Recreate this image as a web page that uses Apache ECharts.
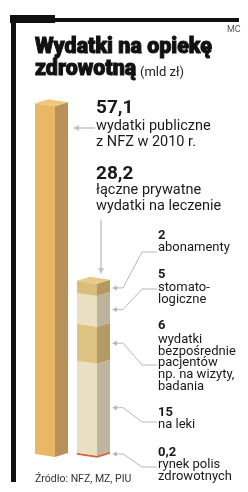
<!DOCTYPE html>
<html><head><meta charset="utf-8">
<script src="https://cdn.jsdelivr.net/npm/echarts@6/dist/echarts.min.js"></script>
<style>html,body{margin:0;padding:0;background:#fff}#c{width:248px;height:492px}</style>
</head><body><div id="c"></div>
<script>
// ---- data ----
const categories = ['Wydatki publiczne z NFZ w 2010 r.', 'Łączne prywatne wydatki na leczenie'];
const publicValues = [57.1];
const privateNames = ['rynek polis zdrowotnych', 'na leki', 'wydatki bezpośrednie pacjentów np. na wizyty, badania', 'stomatologiczne', 'abonamenty'];
const privateValues = [0.2, 15, 6, 5, 2];
const privateTotal = 28.2;
const valueLabels = ['57,1', '28,2', '0,2', '15', '6', '5', '2'];

// ---- styles ----
const publicColors = { front: '#e8b865', side: '#b8915a', top: '#f0c77b' };
const privateColors = [
  { front: '#d8643e', side: '#c9593a' },
  { front: '#e9dfc3', side: '#bfb59c' },
  { front: '#dcc283', side: '#b49b65' },
  { front: '#eadfc1', side: '#bdb39a' },
  { front: '#d9bd7b', side: '#b39860', top: '#e6cc8c' }
];
const leaderLabelY = [467, 422, 365, 289, 252];

// build segments
const segs = [];
segs.push([0, 0, publicValues[0], -1, 1]);
let acc = 0;
privateValues.forEach((v, i) => {
  segs.push([1, acc, acc + v, i, i === privateValues.length - 1 ? 1 : 0]);
  acc += v;
});

function renderItem(params, api) {
  const cat = api.value(0), s = api.value(1), e = api.value(2), k = api.value(3), isTop = api.value(4);
  const p0 = api.coord([cat, s]), p1 = api.coord([cat, e]);
  const band = api.size([1, 0])[0];
  const fw = band * 0.476, sw = band * 0.31;
  const L = p0[0] - fw / 2, M = L + fw, R = M + sw;
  const yb = p0[1], yt = p1[1];
  const col = k < 0 ? publicColors : privateColors[k];
  const children = [];
  children.push({ type: 'polygon', shape: { points: [[L, yt], [M, yt + 3], [M, yb + 3], [L, yb]] }, style: { fill: col.front } });
  children.push({ type: 'polygon', shape: { points: [[M, yt + 3], [R, yt - 1], [R, yb - 1], [M, yb + 3]] }, style: { fill: col.side } });
  if (isTop) {
    children.push({ type: 'polygon', shape: { points: [[L, yt], [M, yt + 3], [R, yt - 1], [L + sw, yt - 4]] }, style: { fill: col.top } });
  }
  if (k === 0) {
    children.push({ type: 'polyline', shape: { points: [[L, yb], [M, yb + 3], [R, yb - 1]] }, style: { stroke: col.front, lineWidth: 1.5, fill: null } });
  }
  if (k >= 0) {
    const m = k === 0 ? yb : (yt + yb) / 2 + 1;
    const ly = leaderLabelY[k];
    children.push({ type: 'polyline', shape: { points: [[R + 5, m], [R + 13, m], [R + 32, ly], [R + 47, ly]] }, style: { stroke: '#b8b8b8', lineWidth: 1, fill: null } });
    children.push({ type: 'polygon', shape: { points: [[R + 2, m], [R + 7, m - 2.5], [R + 7, m + 2.5]] }, style: { fill: '#b8b8b8' } });
  }
  return { type: 'group', children };
}

const chart = echarts.init(document.getElementById('c'), null, { renderer: 'canvas' });

function T(x, base, text, size, weight, color, family, extra) {
  return Object.assign({
    type: 'text', x: x, y: base - size * 0.36,
    style: { text: text, font: (weight || 'normal') + ' ' + size + 'px ' + (family || 'Roboto'), fill: color || '#1a1a1a', verticalAlign: 'middle', align: 'left' }
  }, extra || {});
}

// title fitting
const titleFont = '900 22px Roboto';
const mctx = document.createElement('canvas').getContext('2d');
mctx.font = titleFont;
const tw = mctx.measureText('Wydatki na opiekę').width;
const tScale = 177 / tw;
function titleText(base, text) {
  return { type: 'text', x: 35, y: base - 22 * 0.36, scaleX: tScale, originX: 0,
    style: { text: text, font: titleFont, fill: '#111', stroke: '#111', lineWidth: 1, verticalAlign: 'middle' } };
}

const g = [
  { type: 'rect', shape: { x: 11, y: 15, width: 5, height: 467 }, style: { fill: '#111' } },
  { type: 'rect', shape: { x: 10, y: 15, width: 45, height: 8 }, style: { fill: '#111' } },
  { type: 'rect', shape: { x: 55, y: 18, width: 184, height: 4 }, style: { fill: '#111' } },
  T(227, 33, 'MC', 9, 'normal', '#555'),
  titleText(55, 'Wydatki na opiekę'),
  titleText(77, 'zdrowotną'),
  T(140, 77, '(mld zł)', 13, 'normal', '#222'),
  T(96, 115, valueLabels[0], 19, 'bold'),
  T(96, 132, 'wydatki publiczne', 14.5),
  T(96, 148, 'z NFZ w 2010 r.', 14.5),
  T(96, 181, valueLabels[1], 19, 'bold'),
  T(96, 196, 'łączne prywatne', 14.5),
  T(96, 212, 'wydatki na leczenie', 14.5),
  T(158, 240, valueLabels[6], 13, 'bold'),
  T(158, 252, 'abonamenty', 13),
  T(158, 279, valueLabels[5], 13, 'bold'),
  T(158, 292, 'stomato-', 13),
  T(158, 304, 'logiczne', 13),
  T(158, 330, valueLabels[4], 13, 'bold'),
  T(158, 344, 'wydatki', 13),
  T(158, 356, 'bezpośrednie', 13),
  T(158, 367, 'pacjentów', 13),
  T(158, 379, 'np. na wizyty,', 13),
  T(158, 391, 'badania', 13),
  T(158, 417, valueLabels[3], 13, 'bold'),
  T(158, 429, 'na leki', 13),
  T(158, 457, valueLabels[2], 13, 'bold'),
  T(158, 469, 'rynek polis', 13),
  T(158, 481, 'zdrowotnych', 13),
  T(35, 483, 'Źródło: NFZ, MZ, PIU', 10.5, 'normal', '#333'),
  { type: 'line', shape: { x1: 77, y1: 128, x2: 95, y2: 128 }, style: { stroke: '#c4c4c4', lineWidth: 1.5 } },
  { type: 'polygon', shape: { points: [[73, 128], [79, 125], [79, 131]] }, style: { fill: '#c4c4c4' } },
  { type: 'line', shape: { x1: 101, y1: 220, x2: 101, y2: 269 }, style: { stroke: '#c4c4c4', lineWidth: 1.5 } },
  { type: 'polygon', shape: { points: [[101, 274], [98, 268], [104, 268]] }, style: { fill: '#c4c4c4' } }
];

chart.setOption({
  animation: false,
  grid: { left: 24, right: 140, top: 24, bottom: 38 },
  xAxis: { type: 'category', data: categories, show: false },
  yAxis: { type: 'value', min: 0, max: 70, show: false },
  series: [{ type: 'custom', renderItem: renderItem, data: segs, encode: { x: 0, y: [1, 2] } }],
  graphic: g
});
</script>
</body></html>
